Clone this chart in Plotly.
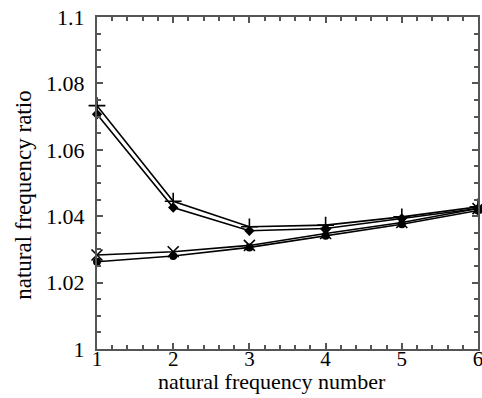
import plotly.graph_objects as go

x = [1, 2, 3, 4, 5, 6]
series_plus = [1.0733, 1.0445, 1.0368, 1.0373, 1.0398, 1.0428]
series_diamond = [1.0707, 1.0426, 1.0356, 1.0363, 1.0393, 1.0423]
series_x = [1.0283, 1.0293, 1.0312, 1.0348, 1.0381, 1.0423]
series_circle = [1.0263, 1.0280, 1.0306, 1.0341, 1.0376, 1.0417]

ytick_vals = [1, 1.02, 1.04, 1.06, 1.08, 1.1]
ytick_text = ["1", "1.02", "1.04", "1.06", "1.08", "1.1"]
xtick_vals = [1, 2, 3, 4, 5, 6]
x_title = "natural frequency number"
y_title = "natural frequency ratio"

FONT = "Liberation Serif"

fig = go.Figure()
common_line = dict(color="black", width=1.6)
fig.add_trace(go.Scatter(x=x, y=series_plus, mode="lines+markers", line=common_line, cliponaxis=False,
                         marker=dict(symbol="cross-thin-open", size=12, line=dict(color="black", width=1.6))))
fig.add_trace(go.Scatter(x=x, y=series_diamond, mode="lines+markers", line=common_line, cliponaxis=False,
                         marker=dict(symbol="diamond", size=8, color="black")))
fig.add_trace(go.Scatter(x=x, y=series_x, mode="lines+markers", line=common_line, cliponaxis=False,
                         marker=dict(symbol="x-thin-open", size=11, line=dict(color="black", width=1.6))))
fig.add_trace(go.Scatter(x=x, y=series_circle, mode="lines+markers", line=common_line, cliponaxis=False,
                         marker=dict(symbol="circle", size=8, color="black")))

axis_common = dict(showline=True, linecolor="#555", linewidth=2, mirror="allticks",
                   ticks="inside", tickcolor="#555", tickwidth=1.5, ticklen=6,
                   showgrid=False, zeroline=False, automargin=False,
                   ticklabeloverflow="allow")

fig.update_layout(
    width=482, height=398,
    margin=dict(l=97, r=4, t=17, b=49),
    paper_bgcolor="white", plot_bgcolor="white",
    showlegend=False,
    xaxis=dict(range=[1, 6], tickvals=xtick_vals, ticktext=[str(v) for v in xtick_vals],
               minor=dict(dtick=0.2, ticks="inside", ticklen=4, tickcolor="#555", tickwidth=1.5),
               ticklabelstandoff=-10,
               tickfont=dict(family=FONT, size=21, color="black"),
               **axis_common),
    yaxis=dict(range=[1, 1.1], tickvals=ytick_vals, ticktext=ytick_text,
               minor=dict(dtick=0.005, tick0=1, ticks="inside", ticklen=4, tickcolor="#555", tickwidth=1.5),
               ticklabelstandoff=6,
               tickfont=dict(family=FONT, size=22, color="black"),
               **axis_common),
    annotations=[
        dict(text=x_title, xref="paper", yref="paper", x=0.459, y=-0.099,
             xanchor="center", yanchor="middle", showarrow=False,
             font=dict(family=FONT, size=22, color="black")),
        dict(text=y_title, xref="paper", yref="paper", x=-0.192, y=0.464,
             xanchor="center", yanchor="middle", showarrow=False, textangle=-90,
             font=dict(family=FONT, size=23, color="black")),
    ],
)

fig.write_html("out.html")
